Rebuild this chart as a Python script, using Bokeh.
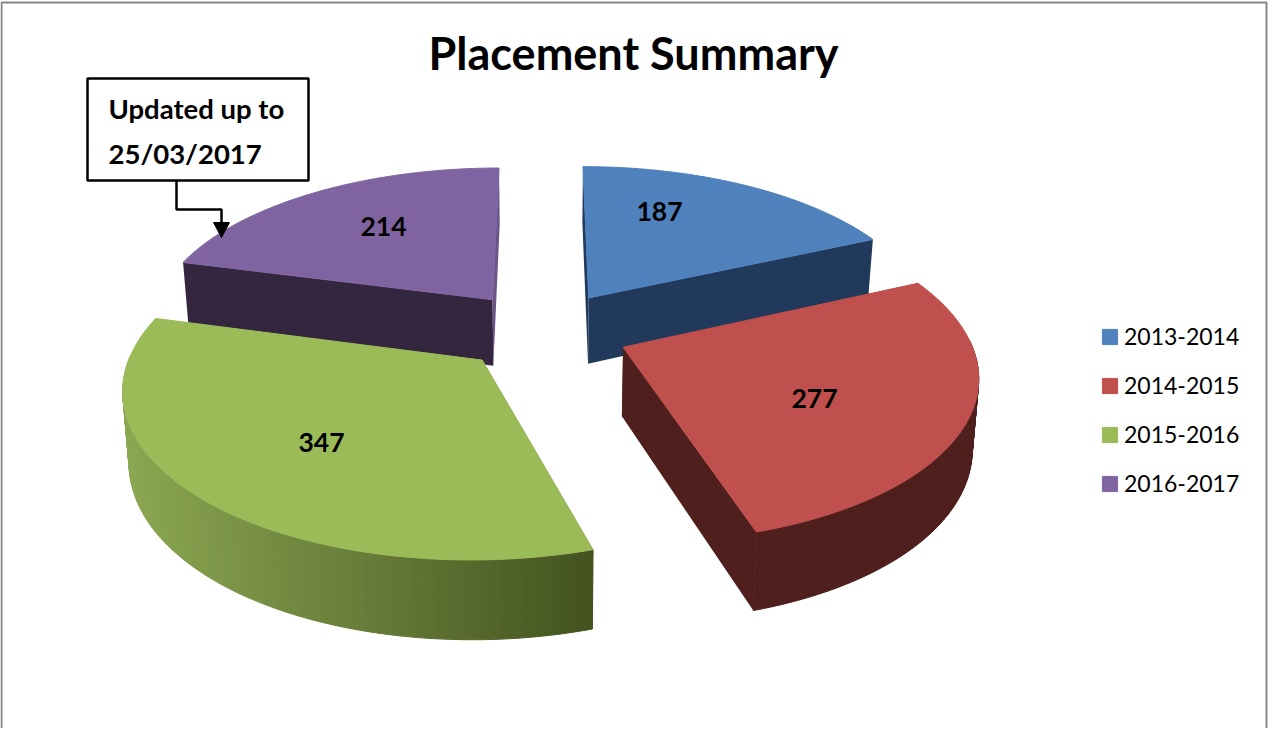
import numpy as np
from bokeh.plotting import figure
from bokeh.models import Legend, LegendItem
from bokeh.core.properties import value
from bokeh.embed import file_html
from bokeh.resources import INLINE

# ---- data ----
seasons = ["2013-2014", "2014-2015", "2015-2016", "2016-2017"]
placements = [187, 277, 347, 214]
chart_title = "Placement Summary"
note_lines = ["Updated up to", "25/03/2017"]

# ---- style / layout ----
top_colors = ["#4f81bd", "#c0504d", "#9bbb59", "#8064a2"]
wall_colors = ["#21395a", "#4f1f1e", "#8ba752", "#35263f"]
start_face = ["#21395a", "#4f1f1e", "#465624", "#35263f"]
end_face = ["#21395a", "#4f1f1e", "#8ba752", "#6b5488"]
label_pos = [(667, 219), (822, 406), (329, 450), (391, 234)]
draw_order = [3, 0, 2, 1]

CX, CY = 551.0, 338.0   # pie centre on the page
A, B = 344.0, 160.0     # projected radii
P = 0.15                # perspective
E = 0.25                # explosion
SHRINK = 0.985


def project(X, Z):
    w = 1 + P * Z
    return CX + A * X / w, CY - B * Z / w


def lower(sx, sy, Z):
    return CX + (sx - CX) * SHRINK, sy + 68 - 10 * Z


def hex2rgb(h):
    return np.array([int(h[i:i + 2], 16) for i in (1, 3, 5)], float)


def mix(a, b, t):
    c = hex2rgb(a) * (1 - t) + hex2rgb(b) * t
    return "#%02x%02x%02x" % tuple(int(round(v)) for v in c)


p = figure(width=1268, height=728, x_range=(8, 1276), y_range=(736, 8),
           x_axis_type=None, y_axis_type=None, toolbar_location=None,
           output_backend="svg", min_border=0, outline_line_color=None,
           background_fill_color="white", border_fill_color="white")
p.grid.visible = False

# chart frame
p.line([9, 9, 1274, 1274], [736, 10, 10, 736], line_color="#868686", line_width=2)

total = sum(placements)
edges = np.concatenate([[0], np.cumsum(placements)]) / total * 360.0
legend_renderers = {}

for i in draw_order:
    a0, a1 = edges[i], edges[i + 1]
    mid = np.radians((a0 + a1) / 2)
    ox, oz = E * np.sin(mid), E * np.cos(mid)
    th = np.radians(np.linspace(a0, a1, max(int(a1 - a0), 2) + 1))
    X = ox + np.sin(th)
    Z = oz + np.cos(th)
    rx, ry = project(X, Z)
    rxb, ryb = lower(rx, ry, Z)
    ax, ay = project(ox, oz)
    axb, ayb = lower(ax, ay, oz)

    # radial cut faces
    p.patch([ax, rx[0], rxb[0], axb], [ay, ry[0], ryb[0], ayb],
            fill_color=start_face[i], line_color=None)
    p.patch([ax, rx[-1], rxb[-1], axb], [ay, ry[-1], ryb[-1], ayb],
            fill_color=end_face[i], line_color=None)

    # outer wall (only the part that faces the viewer)
    xs, ys, cols = [], [], []
    for k in range(len(th) - 1):
        if np.cos(th[k]) > 0.03 and np.cos(th[k + 1]) > 0.03:
            continue
        xs.append([rx[k], rx[k + 1], rxb[k + 1], rxb[k]])
        ys.append([ry[k], ry[k + 1], ryb[k + 1], ryb[k]])
        if i == 2:
            t = float(np.clip((rx[k] - 135) / (600 - 135), 0, 1))
            cols.append(mix("#8ba752", "#445320", t))
        else:
            cols.append(wall_colors[i])
    p.patches(xs, ys, fill_color=cols, line_color=cols, line_width=1)

    # top face
    legend_renderers[i] = p.patch(np.concatenate([[ax], rx]), np.concatenate([[ay], ry]),
                                  fill_color=top_colors[i], line_color=top_colors[i],
                                  line_width=1)

# data labels
p.text([q[0] for q in label_pos], [q[1] for q in label_pos],
       text=[str(v) for v in placements], text_font=value("Lato"),
       text_font_style="bold", text_font_size="26.5px", text_color="black",
       text_align="center", text_baseline="middle")

# title
p.text([641], [60], text=[chart_title], text_font=value("Lato"), text_font_style="bold",
       text_font_size="45px", text_color="black", text_align="center", text_baseline="middle")

# call-out
p.quad(left=[95], right=[316], top=[86], bottom=[188], fill_color="white",
       line_color="black", line_width=2.5)
p.text([116, 116], [116, 161], text=note_lines, text_font=value("Lato"),
       text_font_style="bold", text_font_size="27.5px", text_color="black",
       text_align="left", text_baseline="middle")
p.line([184, 184, 229, 229], [188, 217, 217, 232], line_color="black", line_width=2.5)
p.patch([221, 237, 229], [230, 230, 245], fill_color="black", line_color="black")

# legend
items = [LegendItem(label=seasons[i], renderers=[legend_renderers[i]]) for i in range(4)]
legend = Legend(items=items, location=(1100, 231), orientation="vertical",
                background_fill_alpha=0, border_line_color=None, padding=0, margin=0,
                spacing=21, glyph_width=19, glyph_height=19, label_standoff=5,
                label_text_font="Lato", label_text_font_size="23px", label_text_color="black",
                label_height=24)
p.add_layout(legend)

open("out.html", "w").write(file_html(p, INLINE))
